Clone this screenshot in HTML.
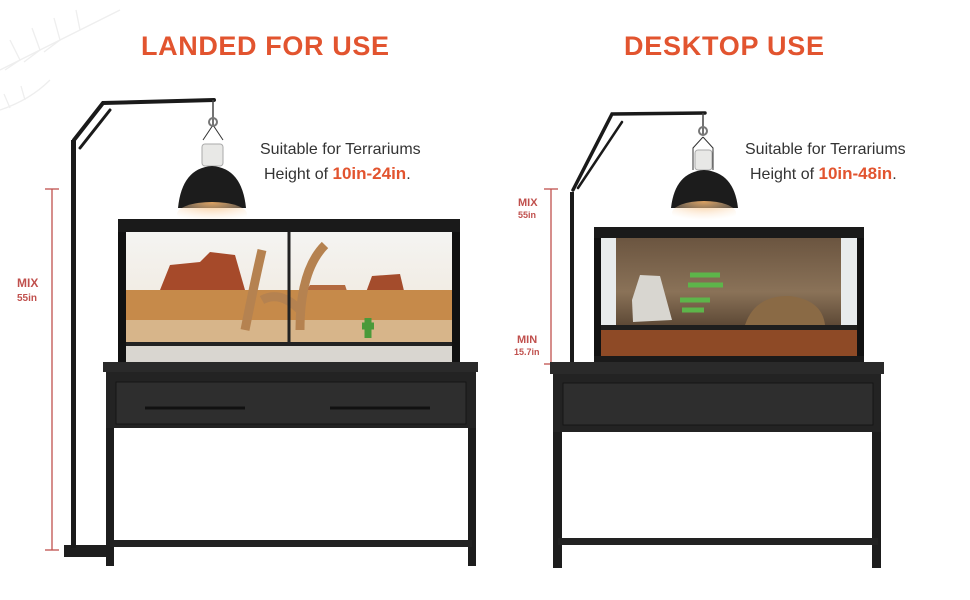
<!DOCTYPE html>
<html><head><meta charset="utf-8"><style>
html,body{margin:0;padding:0;background:#fff;}
svg{display:block}
text{font-family:"Liberation Sans",sans-serif}
</style></head><body>
<svg width="970" height="600" viewBox="0 0 970 600">
<defs>
<radialGradient id="glow" cx="0.5" cy="0" r="0.8">
<stop offset="0" stop-color="#f6b36a" stop-opacity="0.9"/>
<stop offset="1" stop-color="#fbe2c4" stop-opacity="0"/>
</radialGradient>
<linearGradient id="sky" x1="0" y1="0" x2="0" y2="1">
<stop offset="0" stop-color="#f4f4f2"/><stop offset="1" stop-color="#f0e6d8"/>
</linearGradient>
<linearGradient id="rock" x1="0" y1="0" x2="0" y2="1">
<stop offset="0" stop-color="#6b5540"/><stop offset="0.6" stop-color="#8a7258"/><stop offset="1" stop-color="#5a4634"/>
</linearGradient>
</defs>
<g stroke="#eeeeee" stroke-width="1.3" fill="none">
<path d="M0 70 Q60 40 120 10"/><path d="M20 60 l-10 -20 M40 50 l-8 -22 M60 40 l-6 -22 M80 30 l-4 -20 M20 60 l-15 10 M40 50 l-16 12 M60 40 l-16 12"/>
<path d="M0 110 Q30 100 50 80 M10 108 l-6 -14 M25 100 l-4 -14"/>
</g>
<text x="265" y="55" font-size="27" font-weight="bold" fill="#e2542f" text-anchor="middle" textLength="248">LANDED FOR USE</text>
<text x="724" y="55" font-size="27" font-weight="bold" fill="#e2542f" text-anchor="middle" textLength="200">DESKTOP USE</text>
<text x="260" y="154" font-size="16" fill="#333">Suitable for Terrariums</text>
<text x="264" y="179" font-size="16" fill="#333">Height of <tspan fill="#e2542f" font-weight="bold" font-size="17">10in-24in</tspan>.</text>
<text x="745" y="154" font-size="16" fill="#333">Suitable for Terrariums</text>
<text x="750" y="179" font-size="16" fill="#333">Height of <tspan fill="#e2542f" font-weight="bold" font-size="17">10in-48in</tspan>.</text>

<g stroke="#c0504d" stroke-width="1.3">
<line x1="52" y1="189" x2="52" y2="550"/><line x1="45" y1="189" x2="59" y2="189"/><line x1="45" y1="550" x2="59" y2="550"/>
</g>
<text x="17" y="287" font-size="12" font-weight="bold" fill="#c0504d">MIX</text>
<text x="17" y="301" font-size="10" font-weight="bold" fill="#c0504d">55in</text>

<rect x="64" y="545" width="46" height="12" fill="#1e1e1e"/>
<rect x="71" y="140" width="5" height="408" fill="#1a1a1a"/>
<g stroke="#1a1a1a" stroke-width="4" fill="none" stroke-linecap="round">
<path d="M74 140 L103 103 L214 100"/><path d="M80 148 L110 110" stroke-width="3"/>
</g>
<line x1="213" y1="100" x2="213" y2="125" stroke="#444" stroke-width="1.5"/>
<path d="M213 125 L203 140 M213 125 L223 140" stroke="#333" stroke-width="1"/>
<circle cx="213" cy="122" r="4" fill="none" stroke="#777" stroke-width="2"/>
<rect x="202" y="144" width="21" height="22" rx="3" fill="#e8e8e6" stroke="#aaa"/>
<path d="M178 208 Q182 168 212 166 Q242 168 246 208 Z" fill="#1c1c1c"/>
<ellipse cx="212" cy="214" rx="35" ry="12" fill="url(#glow)"/>

<rect x="118" y="219" width="342" height="146" fill="#111"/>
<rect x="126" y="232" width="326" height="112" fill="url(#sky)"/>
<path d="M160 290 L170 265 L200 262 L210 252 L235 255 L245 290 Z" fill="#a64a2a"/>
<path d="M365 295 L372 276 L400 274 L405 295 Z" fill="#a44c2c"/>
<path d="M300 300 L310 285 L345 285 L350 300Z" fill="#b36a3f"/>
<rect x="126" y="290" width="326" height="45" fill="#c68a4a"/>
<rect x="126" y="320" width="326" height="24" fill="#d7b58a"/>
<path d="M245 330 Q255 280 262 250 M300 330 Q300 270 325 245 M262 300 Q280 290 300 310" stroke="#b58250" stroke-width="9" fill="none"/>
<path d="M368 338 L368 318 M362 326 h12" stroke="#4a9a3a" stroke-width="7"/>
<rect x="126" y="344" width="326" height="20" fill="#d9d6d0"/>
<rect x="126" y="342" width="326" height="4" fill="#222"/>
<line x1="289" y1="222" x2="289" y2="345" stroke="#222" stroke-width="3"/>
<rect x="118" y="219" width="342" height="13" fill="#1a1a1a"/>

<rect x="103" y="362" width="375" height="10" fill="#2a2a2a"/>
<rect x="106" y="372" width="370" height="56" fill="#232323"/>
<rect x="116" y="382" width="350" height="42" fill="#2e2e2e" stroke="#151515"/>
<line x1="145" y1="408" x2="245" y2="408" stroke="#111" stroke-width="3"/>
<line x1="330" y1="408" x2="430" y2="408" stroke="#111" stroke-width="3"/>
<rect x="106" y="428" width="8" height="138" fill="#1d1d1d"/>
<rect x="468" y="428" width="8" height="138" fill="#1d1d1d"/>
<rect x="110" y="540" width="362" height="7" fill="#222"/>

<g stroke="#c0504d" stroke-width="1.3">
<line x1="551" y1="189" x2="551" y2="364"/><line x1="544" y1="189" x2="558" y2="189"/><line x1="544" y1="364" x2="558" y2="364"/>
</g>
<text x="518" y="206" font-size="11" font-weight="bold" fill="#c0504d">MIX</text>
<text x="518" y="218" font-size="9" font-weight="bold" fill="#c0504d">55in</text>
<text x="517" y="343" font-size="11" font-weight="bold" fill="#c0504d">MIN</text>
<text x="514" y="355" font-size="9" font-weight="bold" fill="#c0504d">15.7in</text>

<rect x="570" y="192" width="4" height="172" fill="#1a1a1a"/>
<g stroke="#1a1a1a" stroke-width="3.5" fill="none" stroke-linecap="round">
<path d="M573 190 L612 114 L705 113"/><path d="M578 188 L622 122" stroke-width="2.5"/>
</g>
<line x1="703" y1="113" x2="703" y2="135" stroke="#444" stroke-width="1.5"/>
<circle cx="703" cy="131" r="4" fill="none" stroke="#777" stroke-width="2"/>
<path d="M703 137 L693 148 L693 170 M703 137 L713 148 L713 170" stroke="#333" stroke-width="1" fill="none"/>
<rect x="695" y="150" width="17" height="20" rx="3" fill="#e8e8e6" stroke="#aaa"/>
<path d="M671 208 Q675 172 704 170 Q734 172 738 208 Z" fill="#1c1c1c"/>
<ellipse cx="704" cy="213" rx="32" ry="12" fill="url(#glow)"/>

<rect x="594" y="227" width="270" height="138" fill="#121212"/>
<rect x="601" y="238" width="256" height="90" fill="#e8ebec"/>
<rect x="616" y="238" width="225" height="90" fill="url(#rock)"/>
<path d="M632 300 L640 275 L660 276 L672 320 L633 322Z" fill="#d8d6d0"/>
<path d="M690 275 h30 M688 285 h35 M680 300 h30 M682 310 h22" stroke="#5db54a" stroke-width="5"/>
<path d="M745 325 Q755 295 790 296 Q822 300 825 325Z" fill="#8a6a45"/>
<rect x="601" y="325" width="256" height="5" fill="#1e1e1e"/>
<rect x="601" y="330" width="256" height="28" fill="#8e4a26"/>
<rect x="594" y="227" width="270" height="11" fill="#1a1a1a"/>
<rect x="594" y="356" width="270" height="9" fill="#1a1a1a"/>

<rect x="550" y="362" width="334" height="12" fill="#2a2a2a"/>
<rect x="553" y="374" width="328" height="58" fill="#232323"/>
<rect x="563" y="383" width="310" height="42" fill="#2e2e2e" stroke="#151515"/>
<rect x="553" y="432" width="9" height="136" fill="#1d1d1d"/>
<rect x="872" y="432" width="9" height="136" fill="#1d1d1d"/>
<rect x="558" y="538" width="320" height="7" fill="#222"/>
</svg>
</body></html>
